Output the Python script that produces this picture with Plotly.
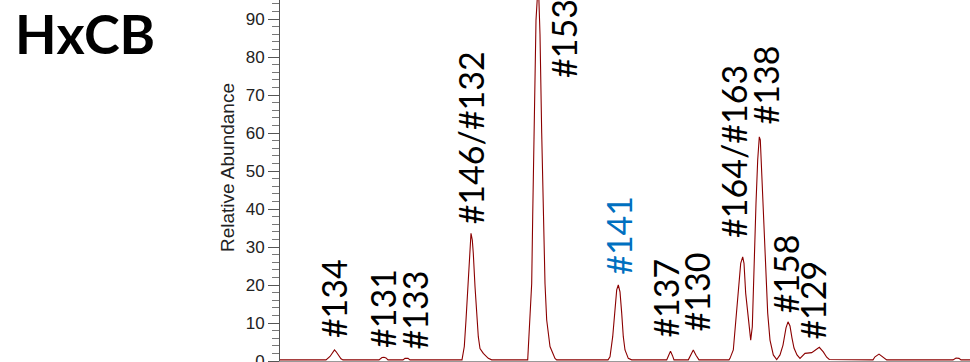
import plotly.graph_objects as go

# HxCB congener chromatogram: retention time (min) vs. relative abundance (%)
rt_min = [
    18.00,
    18.46, 18.50, 18.53, 18.545, 18.56, 18.585, 18.61, 18.63,
    18.99, 19.02, 19.04, 19.06, 19.08,
    19.23, 19.25, 19.28, 19.30,
    19.82, 19.843, 19.86, 19.877, 19.89, 19.90, 19.91, 19.923, 19.933, 19.95,
    19.967, 19.983, 20.00, 20.033, 20.083, 20.117,
    20.477, 20.493, 20.517, 20.527, 20.543, 20.56, 20.583, 20.60, 20.617,
    20.633, 20.65, 20.667, 20.70, 20.75, 20.767,
    21.28, 21.30, 21.327, 21.35, 21.367, 21.383, 21.40, 21.417, 21.433,
    21.45, 21.483, 21.517,
    21.867, 21.885, 21.905, 21.925, 21.94,
    22.083, 22.11, 22.133, 22.16, 22.19,
    22.49, 22.50, 22.533, 22.56, 22.583, 22.607, 22.627, 22.64, 22.657,
    22.683, 22.707, 22.723, 22.743, 22.76, 22.777, 22.793, 22.803, 22.817,
    22.833, 22.857, 22.877, 22.90, 22.933, 22.967,
    23.00, 23.03, 23.06, 23.08, 23.10, 23.12, 23.14, 23.17, 23.20,
    23.25, 23.317, 23.393, 23.433, 23.467, 23.493,
    23.93, 23.95, 23.99, 24.033, 24.067,
    24.73, 24.76, 24.79, 24.81, 24.90,
]
abundance = [
    0.3,
    0.3, 1.2, 2.6, 2.9, 2.5, 1.5, 0.6, 0.3,
    0.3, 0.9, 1.0, 0.8, 0.3,
    0.3, 0.7, 0.7, 0.3,
    0.3, 3.8, 10.8, 19.6, 26.6, 31.0, 33.6, 31.8, 28.3, 19.6,
    12.6, 6.4, 3.3, 2.0, 0.7, 0.3,
    0.3, 8.2, 20.4, 38.0, 68.7, 89.7, 100.0, 86.0, 60.0,
    38.0, 20.4, 10.8, 3.8, 0.7, 0.3,
    0.3, 1.1, 6.4, 13.4, 18.7, 20.0, 18.2, 12.6, 6.4,
    2.9, 0.7, 0.3,
    0.3, 1.4, 2.6, 1.4, 0.3,
    0.3, 1.5, 2.9, 1.5, 0.3,
    0.3, 0.7, 2.9, 10.8, 19.6, 25.7, 27.4, 25.7, 17.8,
    10.8, 5.5, 9.0, 28.3, 41.5, 52.9, 59.0, 58.2, 50.3,
    37.1, 23.9, 12.6, 5.5, 1.6, 0.4,
    1.6, 4.2, 8.7, 10.3, 9.2, 6.0, 3.4, 1.6, 0.7,
    2.0, 2.2, 3.6, 2.4, 1.0, 0.4,
    0.3, 1.1, 1.8, 1.0, 0.3,
    0.3, 0.8, 0.7, 0.3, 0.3,
]

# Congener labels and where their lower ends sit (rt, abundance)
congeners = ["#134", "#131", "#133", "#146/#132", "#153", "#141",
             "#137", "#130", "#164/#163", "#138", "#158", "#129"]
label_rt = [18.535, 19.025, 19.34, 19.90, 20.833, 21.383,
            21.86, 22.167, 22.533, 22.858, 23.058, 23.325]
label_base = [5.5, 2.9, 2.4, 35.3, 73.9, 22.1,
              5.5, 7.3, 31.8, 61.8, 12.1, 5.1]
highlighted = {"#141"}

y_ticks = [0, 10, 20, 30, 40, 50, 60, 70, 80, 90]

fig = go.Figure()
fig.add_trace(go.Scatter(
    x=rt_min, y=abundance, mode="lines",
    line=dict(color="#8B0000", width=1.1),
    hoverinfo="skip", showlegend=False,
))

for name, xr, yb in zip(congeners, label_rt, label_base):
    fig.add_annotation(
        x=xr, y=yb, xref="x", yref="y", text=name, textangle=-90,
        showarrow=False, xanchor="center", yanchor="bottom",
        font=dict(family="Lato", size=34,
                  color="#0070C0" if name in highlighted else "#000000"),
    )

# Panel title
fig.add_annotation(
    x=-0.3855, y=1.0, xref="paper", yref="paper", text="<b>HxCB</b>",
    showarrow=False, xanchor="left", yanchor="top", borderpad=0,
    font=dict(family="Lato", size=54, color="#000000"),
)
# Y-axis title
fig.add_annotation(
    x=-0.0768, y=0.5346, xref="paper", yref="paper", text="Relative Abundance",
    textangle=-90, showarrow=False, xanchor="center", yanchor="middle",
    font=dict(family="Liberation Sans", size=19, color="#222222"),
)

fig.update_layout(
    width=970, height=362,
    margin=dict(l=280, r=0, t=0, b=1, autoexpand=False),
    paper_bgcolor="white", plot_bgcolor="white",
    xaxis=dict(range=[18.0, 24.9], showgrid=False, zeroline=False,
               showline=True, linecolor="#999999", linewidth=1,
               showticklabels=False, ticks="", automargin=False),
    yaxis=dict(range=[0, 95.0], showgrid=False, zeroline=False,
               showline=True, linecolor="#555555", linewidth=1,
               automargin=False,
               tickmode="array", tickvals=y_ticks,
               ticks="outside", ticklen=11, tickcolor="#555555", tickwidth=1,
               ticklabeloverflow="allow",
               minor=dict(dtick=2, ticks="outside", ticklen=7,
                          tickcolor="#777777", tickwidth=1),
               tickfont=dict(family="Liberation Sans", size=17, color="#222222")),
)

fig.write_html("out.html")
